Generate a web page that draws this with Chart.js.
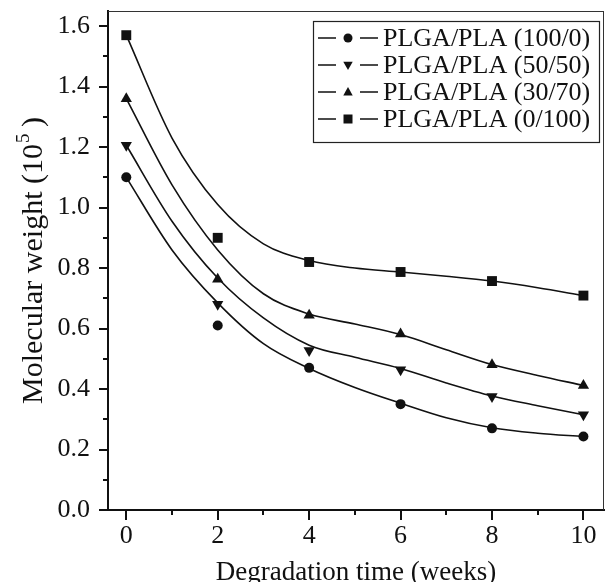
<!DOCTYPE html>
<html lang="en">
<head>
<meta charset="UTF-8" />
<title>Molecular weight vs degradation time</title>
<script src="https://cdn.jsdelivr.net/npm/chart.js"></script>
<style>
  html, body { margin: 0; padding: 0; background: #fff; }
  #wrap { width: 611px; height: 582px; }
</style>
</head>
<body>
<div id="wrap"><canvas id="mwChart" width="611" height="582"></canvas></div>
<script>
// measured points (weeks)
const weeks = [0, 2, 4, 6, 8, 10];
const seriesNames = ['PLGA/PLA (100/0)', 'PLGA/PLA (50/50)', 'PLGA/PLA (30/70)', 'PLGA/PLA (0/100)'];
const mw100_0 = [1.10, 0.61, 0.47, 0.35, 0.27, 0.243];
const mw50_50 = [1.206, 0.68, 0.527, 0.464, 0.375, 0.315];
const mw30_70 = [1.36, 0.763, 0.644, 0.582, 0.48, 0.412];
const mw0_100 = [1.57, 0.90, 0.82, 0.787, 0.757, 0.709];

// fitted curves at every week
const fitWeeks = [0, 1, 2, 3, 4, 5, 6, 7, 8, 9, 10];
const fit100_0 = [1.10, 0.86, 0.685, 0.55, 0.468, 0.405, 0.353, 0.305, 0.272, 0.254, 0.243];
const fit50_50 = [1.206, 0.955, 0.767, 0.635, 0.545, 0.505, 0.468, 0.42, 0.377, 0.345, 0.315];
const fit30_70 = [1.36, 1.075, 0.86, 0.715, 0.648, 0.615, 0.58, 0.53, 0.481, 0.445, 0.412];
const fit0_100 = [1.57, 1.23, 1.01, 0.88, 0.825, 0.80, 0.787, 0.773, 0.757, 0.735, 0.709];

const markers = ['circle', 'triangle', 'triangle', 'rect'];
const markerRot = [0, 180, 0, 0];

const SERIF = "'Liberation Serif', 'Times New Roman', serif";
const INK = '#111';

function pts(xs, ys) {
  return xs.map((x, i) => ({ x: x, y: ys[i] }));
}

const measured = [mw100_0, mw50_50, mw30_70, mw0_100];
const fits = [fit100_0, fit50_50, fit30_70, fit0_100];
const markerSize = { circle: 5, triangle: 6.5, rect: 7 };

const datasets = [];
measured.forEach((vals, i) => {
  datasets.push({
    label: seriesNames[i],
    data: pts(weeks, vals),
    showLine: false,
    pointStyle: markers[i],
    pointRotation: markerRot[i],
    pointRadius: markerSize[markers[i]],
    pointBackgroundColor: INK,
    pointBorderColor: INK,
    pointBorderWidth: 0
  });
});
fits.forEach((vals, i) => {
  datasets.push({
    label: 'fit ' + seriesNames[i],
    data: pts(fitWeeks, vals),
    borderColor: INK,
    borderWidth: 1.6,
    pointRadius: 0,
    cubicInterpolationMode: 'monotone',
    fill: false
  });
});

function isMajor(v, step) {
  const r = v / step;
  return Math.abs(r - Math.round(r)) < 1e-6;
}

// frame + major/minor ticks
const frameTicks = {
  id: 'frameTicks',
  afterDraw(chart) {
    const { ctx, chartArea: a, scales } = chart;
    ctx.save();
    ctx.strokeStyle = '#333';
    ctx.lineWidth = 1;
    ctx.beginPath();
    ctx.moveTo(a.left, a.top + 0.5);
    ctx.lineTo(a.right, a.top + 0.5);
    ctx.moveTo(a.right - 0.5, a.top);
    ctx.lineTo(a.right - 0.5, a.bottom);
    ctx.stroke();

    ctx.strokeStyle = INK;
    ctx.lineWidth = 2;
    ctx.beginPath();
    scales.x.ticks.forEach(t => {
      const px = Math.round(scales.x.getPixelForValue(t.value));
      const len = isMajor(t.value, 2) ? 10 : 5;
      ctx.moveTo(px, a.bottom);
      ctx.lineTo(px, a.bottom + len);
    });
    scales.y.ticks.forEach(t => {
      const py = Math.round(scales.y.getPixelForValue(t.value));
      const len = isMajor(t.value, 0.2) ? 9 : 5;
      ctx.moveTo(a.left, py);
      ctx.lineTo(a.left - len, py);
    });
    ctx.stroke();
    ctx.restore();
  }
};

// y title with superscript
const yTitle = {
  id: 'yTitle',
  afterDraw(chart) {
    const { ctx, chartArea: a } = chart;
    const main = 'Molecular weight (10';
    const sup = '5';
    const tail = ' )';
    ctx.save();
    ctx.fillStyle = INK;
    ctx.textBaseline = 'alphabetic';
    ctx.textAlign = 'left';
    ctx.font = '30px ' + SERIF;
    const w1 = ctx.measureText(main).width;
    const w3 = ctx.measureText(tail).width;
    ctx.font = '19px ' + SERIF;
    const w2 = ctx.measureText(sup).width;
    const total = w1 + w2 + w3;
    const cy = (a.top + a.bottom) / 2;
    ctx.translate(42, cy);
    ctx.rotate(-Math.PI / 2);
    let x = -total / 2;
    ctx.font = '30px ' + SERIF;
    ctx.fillText(main, x, 0);
    x += w1;
    ctx.font = '19px ' + SERIF;
    ctx.fillText(sup, x + 1, -13);
    x += w2;
    ctx.font = '30px ' + SERIF;
    ctx.fillText(tail, x, 0);
    ctx.restore();
  }
};

// boxed legend inside the plot
const boxLegend = {
  id: 'boxLegend',
  afterDraw(chart) {
    const { ctx } = chart;
    const box = { left: 313, top: 21, right: 599, bottom: 142 };
    const rowY = [38, 65, 92, 119];
    ctx.save();
    ctx.fillStyle = '#fff';
    ctx.fillRect(box.left, box.top, box.right - box.left, box.bottom - box.top);
    ctx.strokeStyle = '#222';
    ctx.lineWidth = 1.2;
    ctx.strokeRect(box.left + 0.5, box.top + 0.5, box.right - box.left, box.bottom - box.top);
    ctx.font = '26px ' + SERIF;
    ctx.textBaseline = 'middle';
    ctx.fillStyle = INK;
    seriesNames.forEach((name, i) => {
      const y = rowY[i];
      ctx.lineWidth = 1.6;
      ctx.strokeStyle = INK;
      ctx.beginPath();
      ctx.moveTo(318, y);
      ctx.lineTo(336, y);
      ctx.moveTo(360, y);
      ctx.lineTo(378, y);
      ctx.stroke();
      drawMarker(ctx, markers[i], markerRot[i], 348, y, 4.5);
      ctx.fillText(name, 383, y + 1);
    });
    ctx.restore();
  }
};

function drawMarker(ctx, style, rot, x, y, r) {
  ctx.beginPath();
  if (style === 'circle') {
    ctx.arc(x, y, r, 0, Math.PI * 2);
  } else if (style === 'rect') {
    ctx.rect(x - r, y - r, 2 * r, 2 * r);
  } else {
    const s = rot ? -1 : 1;
    ctx.moveTo(x, y - s * r * 1.1);
    ctx.lineTo(x + r * 1.05, y + s * r * 0.75);
    ctx.lineTo(x - r * 1.05, y + s * r * 0.75);
    ctx.closePath();
  }
  ctx.fill();
}

new Chart(document.getElementById('mwChart'), {
  type: 'line',
  data: { datasets: datasets },
  options: {
    responsive: false,
    animation: false,
    devicePixelRatio: 1,
    layout: { padding: { left: 58, right: 1, top: 11, bottom: 0 } },
    plugins: {
      legend: { display: false },
      tooltip: { enabled: false }
    },
    scales: {
      x: {
        type: 'linear',
        min: -0.4,
        max: 10.45,
        afterFit: s => { s.height = 72; s.paddingLeft = 0; s.paddingRight = 0; },
        ticks: {
          stepSize: 1,
          includeBounds: false,
          autoSkip: false,
          maxRotation: 0,
          padding: 11,
          color: INK,
          font: { family: SERIF, size: 26 },
          callback: v => (isMajor(v, 2) ? String(v) : '')
        },
        grid: { display: false, drawTicks: false },
        border: { display: true, color: INK, width: 2 },
        title: {
          display: true,
          text: 'Degradation time (weeks)',
          color: INK,
          font: { family: SERIF, size: 27, lineHeight: 0.68 },
          padding: { top: 0, bottom: 0 }
        }
      },
      y: {
        type: 'linear',
        min: 0,
        max: 1.65,
        afterFit: s => { s.width = 50; s.paddingTop = 0; s.paddingBottom = 0; },
        ticks: {
          stepSize: 0.1,
          includeBounds: false,
          autoSkip: false,
          padding: 18,
          color: INK,
          font: { family: SERIF, size: 26 },
          callback: v => (isMajor(v, 0.2) ? v.toFixed(1) : '')
        },
        grid: { display: false, drawTicks: false },
        border: { display: true, color: INK, width: 2 }
      }
    }
  },
  plugins: [frameTicks, yTitle, boxLegend]
});
</script>
</body>
</html>
